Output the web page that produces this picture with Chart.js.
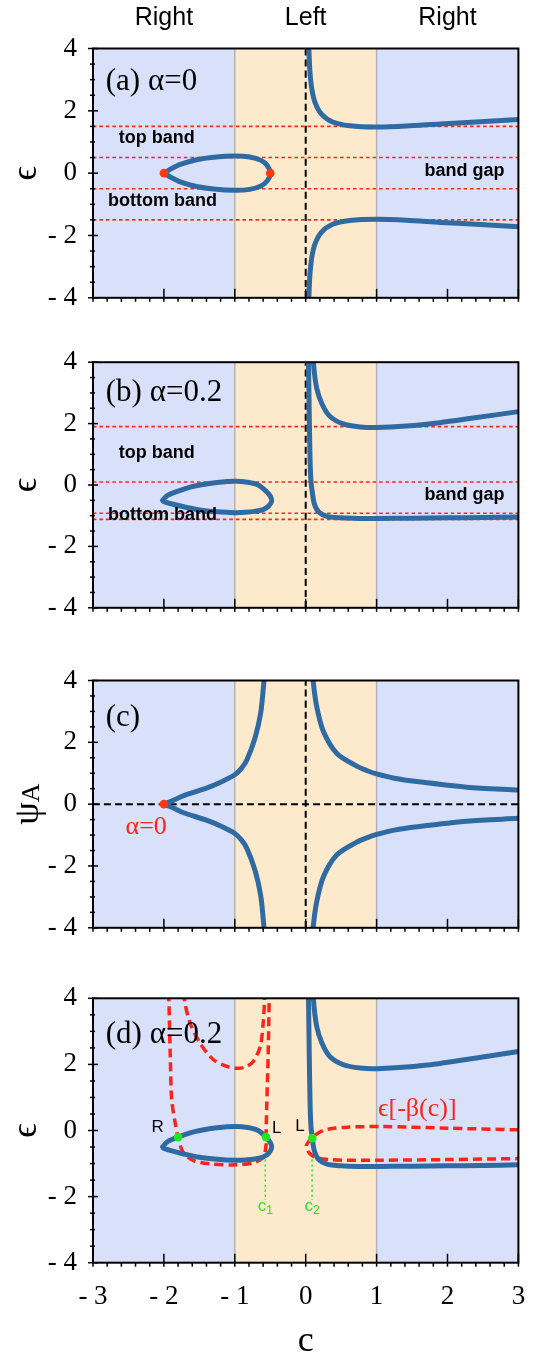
<!DOCTYPE html>
<html>
<head>
<meta charset="utf-8">
<script src="https://cdn.jsdelivr.net/npm/chart.js@4.4.1/dist/chart.umd.min.js"></script>
<style>
  html, body { margin: 0; padding: 0; background: #fff; }
  body { position: relative; width: 538px; height: 1357px; overflow: hidden; }
  canvas { position: absolute; left: 0; display: block; }
</style>
</head>
<body>
<canvas id="pa" width="538" height="330" style="top:0px"></canvas>
<canvas id="pb" width="538" height="310" style="top:330px"></canvas>
<canvas id="pc" width="538" height="320" style="top:640px"></canvas>
<canvas id="pd" width="538" height="397" style="top:960px"></canvas>
<script>
// Four stacked panels: band energies eps(c) and psi_A(c).

const X_TICKS = [-3, -2, -1, 0, 1, 2, 3];
const Y_TICKS = [-4, -2, 0, 2, 4];
const X_RANGE = [-3, 3];
const Y_RANGE = [-4, 4];
const LEFT_REGION = [-1, 1];

// (a) alpha = 0
const A_RIGHT_C = [0.035, 0.045, 0.06, 0.085, 0.13, 0.22, 0.38, 0.62, 1.0, 1.42, 1.9, 2.4, 3.0];
const A_UPPER_E = [4.6, 3.95, 3.25, 2.72, 2.28, 1.9, 1.64, 1.52, 1.48, 1.51, 1.58, 1.64, 1.72];
const A_LOWER_E = [-4.6, -3.95, -3.25, -2.72, -2.28, -1.9, -1.64, -1.52, -1.48, -1.51, -1.58, -1.64, -1.72];
const A_LOOP_C = [-2.0, -1.88, -1.77, -1.54, -1.3, -1.0, -0.79, -0.63, -0.54, -0.5, -0.54, -0.63, -0.79, -1.0, -1.3, -1.54, -1.77, -1.88, -2.0];
const A_LOOP_E = [0, 0.16, 0.28, 0.43, 0.51, 0.55, 0.52, 0.41, 0.24, 0, -0.24, -0.41, -0.52, -0.55, -0.51, -0.43, -0.28, -0.16, 0];
const A_EDGES = [1.5, 0.5, -0.5, -1.5];
const A_DOTS_C = [-2.0, -0.5];
const A_DOTS_E = [0, 0];

// (b) and (d) alpha = 0.2
const B_UPPER_C = [0.1, 0.11, 0.155, 0.23, 0.34, 0.53, 0.77, 1.0, 1.42, 1.89, 2.36, 3.0];
const B_UPPER_E = [4.6, 3.95, 3.15, 2.64, 2.24, 1.99, 1.89, 1.87, 1.92, 2.03, 2.18, 2.39];
const B_LOWER_C = [0.034, 0.04, 0.05, 0.062, 0.075, 0.093, 0.12, 0.18, 0.3, 0.5, 0.75, 1.0, 1.5, 2.0, 2.5, 3.0];
const B_LOWER_E = [4.6, 3.95, 2.3, 0.8, 0.1, -0.23, -0.6, -0.87, -1.02, -1.07, -1.09, -1.09, -1.08, -1.07, -1.06, -1.04];
const B_LOOP_C = [-2.02, -1.95, -1.8, -1.63, -1.49, -1.25, -1.0, -0.82, -0.67, -0.56, -0.5, -0.48, -0.52, -0.6, -0.72, -0.85, -1.0, -1.25, -1.5, -1.72, -1.9, -2.0, -2.02];
const B_LOOP_E = [-0.5, -0.34, -0.2, -0.07, 0.0, 0.08, 0.12, 0.09, 0.0, -0.2, -0.36, -0.52, -0.68, -0.8, -0.86, -0.89, -0.9, -0.87, -0.81, -0.71, -0.61, -0.54, -0.5];
const B_EDGES = [1.9, 0.1, -0.92, -1.12];

// (c) psi_A at alpha = 0
const C_LEFT_C = [-2.0, -1.85, -1.73, -1.4, -1.2, -1.0, -0.91, -0.83, -0.715, -0.635, -0.59, -0.578];
const C_LEFT_UP = [0, 0.14, 0.27, 0.52, 0.71, 0.95, 1.15, 1.43, 2.14, 2.95, 3.96, 4.5];
const C_LEFT_DOWN = [0, -0.14, -0.27, -0.52, -0.71, -0.95, -1.15, -1.43, -2.14, -2.95, -3.96, -4.5];
const C_RIGHT_C = [0.098, 0.107, 0.155, 0.25, 0.44, 0.72, 0.86, 1.0, 1.25, 1.57, 2.27, 3.0];
const C_RIGHT_UP = [4.5, 3.96, 3.16, 2.35, 1.64, 1.23, 1.09, 0.98, 0.84, 0.73, 0.55, 0.46];
const C_RIGHT_DOWN = [-4.5, -3.96, -3.16, -2.35, -1.64, -1.23, -1.09, -0.98, -0.84, -0.73, -0.55, -0.46];
const C_DOTS_C = [-2.0];
const C_DOTS_E = [0];

// (d) eps[-beta(c)] curves
const D_RED_LEFT_C = [-1.94, -1.93, -1.91, -1.89, -1.84, -1.8, -1.73, -1.58, -1.35, -1.0, -0.74, -0.6, -0.56, -0.56, -0.55, -0.53, -0.515, -0.51];
const D_RED_LEFT_E = [4.6, 3.95, 2.24, 0.93, 0.22, -0.2, -0.66, -0.91, -1.01, -1.04, -0.98, -0.81, -0.46, -0.2, 0.72, 2.24, 3.95, 4.6];
const D_RED_TOP_C = [-1.73, -1.71, -1.63, -1.49, -1.3, -1.1, -0.97, -0.85, -0.74, -0.64, -0.6, -0.58, -0.575];
const D_RED_TOP_E = [4.6, 3.95, 3.25, 2.64, 2.14, 1.93, 1.88, 1.92, 2.09, 2.55, 3.25, 3.95, 4.6];
const D_RED_RIGHT_C = [3.0, 2.0, 1.05, 0.58, 0.35, 0.25, 0.15, 0.093, 0.04, 0.01, 0.02, 0.06, 0.155, 0.35, 0.58, 1.05, 2.0, 3.0];
const D_RED_RIGHT_E = [0.02, 0.07, 0.12, 0.1, 0.05, 0.0, -0.11, -0.23, -0.34, -0.45, -0.57, -0.7, -0.83, -0.88, -0.9, -0.9, -0.88, -0.85];
const D_DOTS_C = [-1.8, -0.56, 0.093];
const D_DOTS_E = [-0.2, -0.2, -0.23];
const D_GUIDE_C = [-0.57, 0.09];
const D_GUIDE_E = [-0.88, -2.1];

const SERIF = '"Liberation Serif", "DejaVu Serif", serif';
const SANS = '"Liberation Sans", Arial, sans-serif';
const BLUE_BG = '#d9e0fa';
const ORANGE_BG = '#fdeacc';
const CURVE = '#2f6aa3';
const RED = '#ff2318';
const DOT_RED = '#ff3a0a';
const GREEN = '#22e622';

function xy(cs, es) { return cs.map((c, i) => ({ x: c, y: es[i] })); }

function curve(cs, es, extra) {
  return Object.assign({
    data: xy(cs, es), showLine: true, borderColor: CURVE, borderWidth: 5,
    pointRadius: 0, tension: 0.3, borderCapStyle: 'round', borderJoinStyle: 'round', order: 2
  }, extra || {});
}

function dashed(cs, es, color, width, dash) {
  return { data: xy(cs, es), showLine: true, borderColor: color, borderWidth: width,
    borderDash: dash, pointRadius: 0, tension: 0.3, order: 3 };
}

function hlines(values) {
  return values.map(v => dashed(X_RANGE, [v, v], RED, 1.6, [3.5, 3]));
}

function zeroV() { return dashed([0, 0], Y_RANGE, '#000', 2, [7, 4]); }

function dots(cs, es, color) {
  return { data: xy(cs, es), showLine: false, pointRadius: 4.3, pointBackgroundColor: color,
    pointBorderWidth: 0, order: 0 };
}

// "- 2" style minus, as in the figure
const fmtTick = v => (v < 0 ? '- ' + Math.abs(v) : String(v));

function drawLabel(ctx, t, px, py) {
  ctx.fillStyle = t.color || '#000';
  ctx.textBaseline = 'middle';
  ctx.font = t.font;
  const w = ctx.measureText(t.text).width;
  let w2 = 0;
  if (t.sub) { ctx.font = t.subFont; w2 = ctx.measureText(t.sub).width; }
  let left = px;
  if ((t.align || 'center') === 'center') left = px - (w + w2) / 2;
  ctx.textAlign = 'left';
  ctx.font = t.font;
  ctx.fillText(t.text, left, py);
  if (t.sub) { ctx.font = t.subFont; ctx.fillText(t.sub, left + w, py + (t.subDy || 5)); }
}

const panelPlugin = {
  id: 'panel',
  beforeDatasetsDraw(chart, args, o) {
    const { ctx, chartArea: a, scales: { x } } = chart;
    ctx.save();
    ctx.fillStyle = BLUE_BG;
    ctx.fillRect(a.left, a.top, a.width, a.height);
    const x0 = x.getPixelForValue(LEFT_REGION[0]);
    const x1 = x.getPixelForValue(LEFT_REGION[1]);
    ctx.fillStyle = ORANGE_BG;
    ctx.fillRect(x0, a.top, x1 - x0, a.height);
    ctx.strokeStyle = '#b4b4b4';
    ctx.lineWidth = 1.5;
    [x0, x1].forEach(px => {
      ctx.beginPath(); ctx.moveTo(px, a.top); ctx.lineTo(px, a.bottom); ctx.stroke();
    });
    ctx.restore();
  },
  afterDraw(chart, args, o) {
    const { ctx, chartArea: a, scales: { x, y } } = chart;
    ctx.save();
    // minor + major ticks
    ctx.strokeStyle = '#000';
    ctx.lineWidth = 1.5;
    for (let i = 0; i <= 30; i++) {
      const px = x.getPixelForValue(X_RANGE[0] + i * 0.2);
      const major = i % 5 === 0;
      ctx.beginPath();
      ctx.moveTo(px, a.bottom + 4);
      ctx.lineTo(px, a.bottom - (major ? 9 : 0));
      ctx.stroke();
    }
    for (let i = 0; i <= 16; i++) {
      const py = y.getPixelForValue(Y_RANGE[0] + i * 0.5);
      const major = i % 4 === 0;
      ctx.beginPath();
      ctx.moveTo(a.left - (major ? 5 : 3), py);
      ctx.lineTo(a.left + (major ? 5 : 2), py);
      ctx.stroke();
    }
    ctx.lineWidth = 2;
    ctx.strokeRect(a.left, a.top, a.width, a.height);

    (o.labels || []).forEach(t => {
      drawLabel(ctx, t, x.getPixelForValue(t.c), y.getPixelForValue(t.e));
    });
    (o.header || []).forEach(t => {
      drawLabel(ctx, t, x.getPixelForValue(t.c), t.py);
    });

    if (o.yTitle) {
      const t = o.yTitle;
      ctx.translate(t.px, (a.top + a.bottom) / 2);
      ctx.rotate(-Math.PI / 2);
      drawLabel(ctx, t, 0, 0);
      ctx.setTransform(1, 0, 0, 1, 0, 0);
    }
    if (o.xTitle) {
      drawLabel(ctx, o.xTitle, (a.left + a.right) / 2, o.xTitle.py);
    }
    ctx.restore();
  }
};

function makeChart(id, cfg) {
  return new Chart(document.getElementById(id), {
    type: 'scatter',
    data: { datasets: cfg.datasets },
    options: {
      responsive: false,
      animation: false,
      events: [],
      layout: { padding: { top: cfg.top, right: 19.6, left: 0, bottom: 0 } },
      plugins: { legend: { display: false }, tooltip: { enabled: false }, panel: cfg.panel },
      scales: {
        x: {
          type: 'linear', min: X_RANGE[0], max: X_RANGE[1],
          afterBuildTicks: s => { s.ticks = X_TICKS.map(v => ({ value: v })); },
          afterFit: s => { s.height = cfg.xHeight; s.paddingLeft = 0; s.paddingRight = 0; },
          grid: { display: false, drawTicks: false },
          border: { display: false },
          ticks: { display: !!cfg.xLabels, padding: 18, color: '#000', maxRotation: 0, autoSkip: false,
            font: { family: SERIF, size: 27 }, callback: fmtTick }
        },
        y: {
          type: 'linear', min: Y_RANGE[0], max: Y_RANGE[1],
          afterBuildTicks: s => { s.ticks = Y_TICKS.map(v => ({ value: v })); },
          afterFit: s => { s.width = 93; },
          grid: { display: false, drawTicks: false },
          border: { display: false },
          ticks: { padding: 16, color: '#000', font: { family: SERIF, size: 27 }, callback: fmtTick }
        }
      }
    },
    plugins: [panelPlugin]
  });
}

const panelFont = '31px ' + SERIF;
const bandFont = 'bold 18px ' + SANS;
const headFont = '25px ' + SANS;
const epsTitle = { text: '\u03f5', font: '36px ' + SERIF, px: 27 };

makeChart('pa', {
  top: 48.5, xHeight: 17,
  datasets: [
    dots(A_DOTS_C, A_DOTS_E, DOT_RED),
    curve(A_RIGHT_C, A_UPPER_E),
    curve(A_RIGHT_C, A_LOWER_E),
    curve(A_LOOP_C, A_LOOP_E),
    zeroV(),
    ...hlines(A_EDGES)
  ],
  panel: {
    yTitle: epsTitle,
    header: [
      { text: 'Right', c: -2, py: 18, font: headFont },
      { text: 'Left', c: 0, py: 18, font: headFont },
      { text: 'Right', c: 2, py: 18, font: headFont }
    ],
    labels: [
      { text: '(a) \u03b1=0', c: -2.82, e: 2.93, font: panelFont, align: 'left' },
      { text: 'top band', c: -2.1, e: 1.14, font: bandFont },
      { text: 'bottom band', c: -2.02, e: -0.9, font: bandFont },
      { text: 'band gap', c: 2.24, e: 0.08, font: bandFont }
    ]
  }
});

makeChart('pb', {
  top: 28.5, xHeight: 17.3,
  datasets: [
    curve(B_UPPER_C, B_UPPER_E),
    curve(B_LOWER_C, B_LOWER_E),
    curve(B_LOOP_C, B_LOOP_E),
    zeroV(),
    ...hlines(B_EDGES)
  ],
  panel: {
    yTitle: epsTitle,
    labels: [
      { text: '(b) \u03b1=0.2', c: -2.82, e: 3.0, font: panelFont, align: 'left' },
      { text: 'top band', c: -2.1, e: 1.05, font: bandFont },
      { text: 'bottom band', c: -2.02, e: -0.97, font: bandFont },
      { text: 'band gap', c: 2.24, e: -0.33, font: bandFont }
    ]
  }
});

makeChart('pc', {
  top: 40.5, xHeight: 16,
  datasets: [
    dots(C_DOTS_C, C_DOTS_E, DOT_RED),
    curve(C_LEFT_C, C_LEFT_UP),
    curve(C_LEFT_C, C_LEFT_DOWN),
    curve(C_RIGHT_C, C_RIGHT_UP),
    curve(C_RIGHT_C, C_RIGHT_DOWN),
    zeroV(),
    dashed(X_RANGE, [0, 0], '#000', 2, [7, 4])
  ],
  panel: {
    yTitle: { text: '\u03c8', sub: 'A', font: '36px ' + SERIF, subFont: '26px ' + SERIF, subDy: 3, px: 29 },
    labels: [
      { text: '(c)', c: -2.82, e: 2.8, font: panelFont, align: 'left' },
      { text: '\u03b1=0', c: -2.25, e: -0.73, font: '26px ' + SERIF, color: RED }
    ]
  }
});

makeChart('pd', {
  top: 38.3, xHeight: 94.3, xLabels: true,
  datasets: [
    dots(D_DOTS_C, D_DOTS_E, GREEN),
    curve(B_UPPER_C, B_UPPER_E),
    curve(B_LOWER_C, B_LOWER_E),
    curve(B_LOOP_C, B_LOOP_E),
    dashed(D_RED_LEFT_C, D_RED_LEFT_E, RED, 3.5, [9, 5]),
    dashed(D_RED_TOP_C, D_RED_TOP_E, RED, 3.5, [9, 5]),
    dashed(D_RED_RIGHT_C, D_RED_RIGHT_E, RED, 3.5, [9, 5]),
    dashed([D_GUIDE_C[0], D_GUIDE_C[0]], D_GUIDE_E, GREEN, 1.5, [2, 3]),
    dashed([D_GUIDE_C[1], D_GUIDE_C[1]], D_GUIDE_E, GREEN, 1.5, [2, 3])
  ],
  panel: {
    yTitle: epsTitle,
    xTitle: { text: 'c', font: '36px ' + SERIF, py: 381.7 },
    labels: [
      { text: '(d) \u03b1=0.2', c: -2.82, e: 2.89, font: panelFont, align: 'left' },
      { text: 'R', c: -2.09, e: 0.1, font: '17px ' + SANS },
      { text: 'L', c: -0.41, e: 0.08, font: '17px ' + SANS },
      { text: 'L', c: -0.08, e: 0.12, font: '17px ' + SANS },
      { text: '\u03f5[-\u03b2(c)]', c: 1.02, e: 0.65, font: '26px ' + SERIF, color: RED, align: 'left' },
      { text: 'c', sub: '1', c: -0.57, e: -2.3, font: '17px ' + SANS, subFont: '12px ' + SANS, subDy: 4, color: GREEN },
      { text: 'c', sub: '2', c: 0.09, e: -2.3, font: '17px ' + SANS, subFont: '12px ' + SANS, subDy: 4, color: GREEN }
    ]
  }
});
</script>
</body>
</html>
